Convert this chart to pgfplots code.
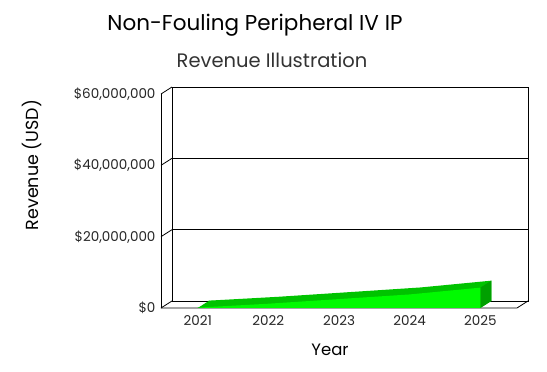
\documentclass[border=0pt]{standalone}
\usepackage{pgfplots}
\pgfplotsset{compat=1.18}
\usepackage{pgfplotstable}
\usepackage{fontspec}
\setmainfont{Poppins}
\definecolor{frontg}{RGB}{0,250,0}
\definecolor{topg}{RGB}{0,195,0}
\definecolor{sideg}{RGB}{0,160,0}
\pgfplotstableread{
year rev
2021 100000
2022 1200000
2023 2500000
2024 3800000
2025 5700000
}\revdata
\begin{document}
\begin{tikzpicture}
\begin{axis}[
 at={(0pt,0pt)}, anchor=south west,
 scale only axis, width=356pt, height=214pt,
 xmin=2020.48, xmax=2025.52, ymin=0, ymax=60000000,
 xtick={2021,2022,2023,2024,2025}, xticklabels={2021,2022,2023,2024,2025},
 ytick={0,20000000,40000000,60000000},
 scaled y ticks=false,
 yticklabel={\$\pgfmathprintnumber[fixed,precision=0,1000 sep={,}]{\tick}},
 /pgf/number format/assume math mode=true,
 axis line style={draw=none}, major tick length=0pt,
 clip=false,
 ticklabel style={font=\fontsize{13.5}{15}\selectfont, text=black!85},
 yticklabel style={xshift=-2pt},
 xticklabel style={yshift=-4pt},
]
% back plane and grid
\draw[black, line width=0.8pt] ([shift={(11pt,7pt)}]rel axis cs:0,0) rectangle ([shift={(11pt,7pt)}]rel axis cs:1,1);
\draw[black, line width=0.8pt] ([shift={(11pt,7pt)}]axis cs:2020.48,20000000) -- ([shift={(11pt,7pt)}]axis cs:2025.52,20000000);
\draw[black, line width=0.8pt] ([shift={(11pt,7pt)}]axis cs:2020.48,40000000) -- ([shift={(11pt,7pt)}]axis cs:2025.52,40000000);
% front frame
\draw[black, line width=0.8pt] (rel axis cs:0,0) -- (rel axis cs:0,1);
\draw[black, line width=0.8pt] (rel axis cs:0,0) -- (rel axis cs:1,0) -- ([shift={(11pt,7pt)}]rel axis cs:1,0);
\draw[black, line width=0.8pt] (axis cs:2020.48,0) -- ([shift={(11pt,7pt)}]axis cs:2020.48,0);
\draw[black, line width=0.8pt] (axis cs:2020.48,20000000) -- ([shift={(11pt,7pt)}]axis cs:2020.48,20000000);
\draw[black, line width=0.8pt] (axis cs:2020.48,40000000) -- ([shift={(11pt,7pt)}]axis cs:2020.48,40000000);
\draw[black, line width=0.8pt] (axis cs:2020.48,60000000) -- ([shift={(11pt,7pt)}]axis cs:2020.48,60000000);
% 3D area
\fill[topg] (axis cs:2021,0) -- (axis cs:2025,0) -- ([shift={(11pt,7pt)}]axis cs:2025,0) -- ([shift={(11pt,7pt)}]axis cs:2021,0) -- cycle;
\addplot[draw=none, fill=topg, xshift=11pt, yshift=7pt] table[x=year,y=rev]{\revdata} \closedcycle;
\fill[sideg] (axis cs:2025,0) -- (axis cs:2025,5700000) -- ([shift={(11pt,7pt)}]axis cs:2025,5700000) -- ([shift={(11pt,7pt)}]axis cs:2025,0) -- cycle;
\addplot[draw=none, fill=frontg] table[x=year,y=rev]{\revdata} \closedcycle;
\end{axis}
\node at (94pt,283pt) {\fontsize{21.5}{25}\selectfont Non-Fouling Peripheral IV IP};
\node[text=black!80] at (111pt,248pt) {\fontsize{19.5}{23}\selectfont Revenue Illustration};
\node at (169pt,-42pt) {\fontsize{16.5}{19}\selectfont Year};
\node[rotate=90] at (-129pt,143pt) {\fontsize{17.5}{20}\selectfont Revenue (USD)};
\pgfresetboundingbox
\useasboundingbox (-161pt,-64pt) rectangle (386pt,308pt);
\end{tikzpicture}
\end{document}
